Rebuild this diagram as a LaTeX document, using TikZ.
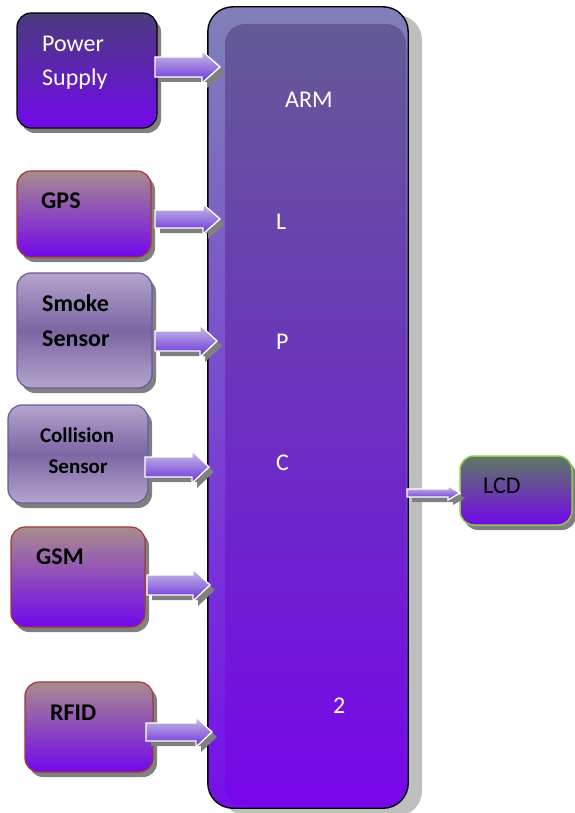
\documentclass[tikz,border=0pt]{standalone}
\usepackage{fontspec}
\setmainfont{Carlito}
\usetikzlibrary{shadows,calc}
\definecolor{armtop}{HTML}{8080B8}
\definecolor{armbot}{HTML}{7410E8}
\definecolor{inntop}{HTML}{645A96}
\definecolor{innbot}{HTML}{7606EA}
\definecolor{violet}{HTML}{7208EC}
\definecolor{pstop}{HTML}{4A3C7C}
\definecolor{redtop}{HTML}{A98C8E}
\definecolor{redline}{HTML}{A03838}
\definecolor{lavtop}{HTML}{B4A4CC}
\definecolor{lavmid}{HTML}{7C66A4}
\definecolor{lavline}{HTML}{6A5A9A}
\definecolor{lcdtop}{HTML}{5E7A62}
\definecolor{lcdline}{HTML}{90C850}
\definecolor{arrtop}{HTML}{C8C0E2}
\definecolor{arrbot}{HTML}{6A30DC}
\newcommand\blockarrow[5]{%
  \fill[black!50] ($(#1)+(5,-#3+5)$) -- ($(#2)+(-#5+5,-#3+5)$) -- ($(#2)+(-#5+5,-#4+5)$) -- ($(#2)+(5,5)$) -- ($(#2)+(-#5+5,#4+5)$) -- ($(#2)+(-#5+5,#3+5)$) -- ($(#1)+(5,#3+5)$) -- cycle;
  \shade[top color=arrtop, bottom color=arrbot, draw=white, line width=1.3pt, line join=miter]
    ($(#1)+(0,-#3)$) -- ($(#2)+(-#5,-#3)$) -- ($(#2)+(-#5,-#4)$) -- (#2) -- ($(#2)+(-#5,#4)$) -- ($(#2)+(-#5,#3)$) -- ($(#1)+(0,#3)$) -- cycle;}
\begin{document}
\begin{tikzpicture}[x=1pt,y=-1pt,
  box/.style={rectangle, rounded corners=14pt, inner sep=0pt, line width=1.2pt,
    drop shadow={shadow xshift=4pt, shadow yshift=-5pt, fill=black!50, opacity=1}},
  redbox/.style={box, draw=redline, top color=redtop, bottom color=violet},
  lavbox/.style={box, draw=lavline, top color=lavtop, bottom color=lavtop, middle color=lavmid},
  wtxt/.style={text=white, font=\fontsize{24}{28}\selectfont, inner sep=0pt, anchor=base west},
  btxt/.style={text=black, font=\fontsize{24}{28}\selectfont\bfseries, inner sep=0pt, anchor=base west},
  ctxt/.style={text=black, font=\fontsize{21}{24}\selectfont\bfseries, inner sep=0pt, anchor=base}]
\useasboundingbox (0,0) rectangle (574,813);
\fill[white] (0,0) rectangle (574,813);

% ARM block
\fill[black!25, rounded corners=25pt] (222,15) rectangle (422,816);
\node[rectangle, rounded corners=25pt, inner sep=0pt, minimum width=200pt, minimum height=801pt,
  top color=armtop, bottom color=armbot] (arm) at (308,407.5) {};
\begin{scope}
  \clip[rounded corners=25pt] (arm.north west) rectangle (arm.south east);
  \shade[top color=inntop, bottom color=innbot, rounded corners=20pt] (225,24) rectangle (406,806);
\end{scope}
\draw[line width=1.4pt, rounded corners=25pt] (arm.north west) rectangle (arm.south east);

% input boxes
\node[box, draw=black, top color=pstop, bottom color=violet, minimum width=140pt, minimum height=115pt] (ps) at (87,70.5) {};
\node[redbox, minimum width=134pt, minimum height=86pt] (gps) at (84,214) {};
\node[lavbox, minimum width=135pt, minimum height=115pt] (smoke) at (84.5,330.5) {};
\node[lavbox, minimum width=140pt, minimum height=98pt] (coll) at (78,454) {};
\node[redbox, minimum width=134pt, minimum height=100pt] (gsm) at (78,577) {};
\node[redbox, minimum width=128pt, minimum height=90pt] (rfid) at (89,727) {};
\node[box, draw=lcdline, line width=1.5pt, top color=lcdtop, bottom color=violet, minimum width=112pt, minimum height=69pt] (lcd) at (516,490.5) {};

% texts
\node[wtxt] at (42,52) {Power};
\node[wtxt] at (42,86) {Supply};
\node[btxt] at (41,208) {GPS};
\node[btxt] at (42,311) {Smoke};
\node[btxt] at (42,346) {Sensor};
\node[ctxt] at (77,442) {Collision};
\node[ctxt] at (78,473) {Sensor};
\node[btxt] at (36,564) {GSM};
\node[btxt] at (50,720) {RFID};
\node[btxt, font=\fontsize{24}{28}\selectfont] at (483,493) {LCD};
\node[wtxt] at (285,108) {ARM};
\node[wtxt] at (276,229) {L};
\node[wtxt] at (276,349) {P};
\node[wtxt] at (276,470) {C};
\node[wtxt] at (333,713) {2};

% connectors
\coordinate (a1s) at (155,67);  \coordinate (a1e) at (220,67);
\coordinate (a2s) at (155,219); \coordinate (a2e) at (220,219);
\coordinate (a3s) at (155,341); \coordinate (a3e) at (217,341);
\coordinate (a4s) at (145,467); \coordinate (a4e) at (209,467);
\coordinate (a5s) at (147,585); \coordinate (a5e) at (210,585);
\coordinate (a6s) at (146,732); \coordinate (a6e) at (212,732);
\coordinate (a7s) at (407,493); \coordinate (a7e) at (460,493);
\blockarrow{a1s}{a1e}{10}{16}{18}
\blockarrow{a2s}{a2e}{9}{15}{17}
\blockarrow{a3s}{a3e}{10}{16}{17}
\blockarrow{a4s}{a4e}{10}{16}{17}
\blockarrow{a5s}{a5e}{10}{16}{17}
\blockarrow{a6s}{a6e}{9}{15}{16}
\blockarrow{a7s}{a7e}{4}{7}{12}
\end{tikzpicture}
\end{document}
